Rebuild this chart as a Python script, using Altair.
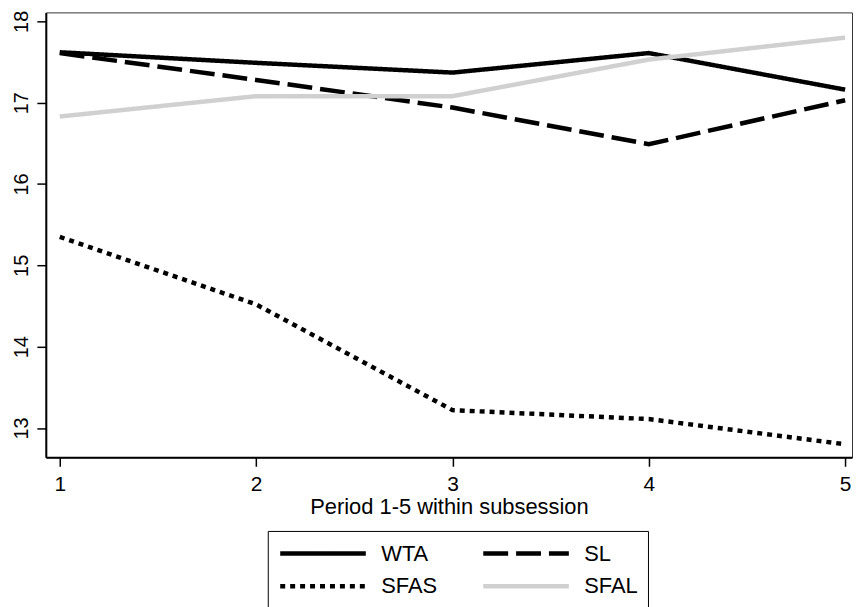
import altair as alt
import pandas as pd

periods = [1, 2, 3, 4, 5]
series_names = ["WTA", "SL", "SFAS", "SFAL"]
wta = [17.62, 17.49, 17.37, 17.61, 17.16]
sl = [17.61, 17.28, 16.94, 16.49, 17.03]
sfas = [15.35, 14.52, 13.22, 13.11, 12.80]
sfal = [16.83, 17.08, 17.08, 17.53, 17.80]

rows = []
for name, vals in zip(series_names, [wta, sl, sfas, sfal]):
    for p, v in zip(periods, vals):
        rows.append({"period": p, "value": v, "series": name})
df = pd.DataFrame(rows)

font = "Liberation Sans"

chart = alt.Chart(df).mark_line(strokeWidth=4.5, strokeCap="butt").encode(
    x=alt.X("period:Q",
            scale=alt.Scale(domain=[0.929, 5.035], nice=False, zero=False),
            axis=alt.Axis(values=periods, format="d", title="Period 1-5 within subsession",
                          grid=False, tickSize=9, labelPadding=7, labelFontSize=21,
                          titlePadding=2, titleFontSize=22)),
    y=alt.Y("value:Q",
            scale=alt.Scale(domain=[12.64, 18.11], nice=False, zero=False),
            axis=alt.Axis(values=[13, 14, 15, 16, 17, 18], format="d", title=None,
                          grid=False, tickSize=9, labelAngle=270, labelAlign="center",
                          labelBaseline="bottom", labelPadding=5, labelFontSize=20)),
    color=alt.Color("series:N",
                    scale=alt.Scale(domain=series_names,
                                    range=["#000000", "#000000", "#000000", "#d0d0d0"]),
                    legend=alt.Legend(title=None, orient="none", legendX=223, legendY=521,
                                      columns=2, direction="horizontal",
                                      symbolType="M-1,0H7.6", symbolSize=400,
                                      symbolStrokeWidth=4.5, labelFontSize=22,
                                      labelFont=font, labelColor="#000000",
                                      labelOffset=79, columnPadding=36,
                                      rowPadding=9, padding=10,
                                      strokeColor="#000000", fillColor="white")),
    strokeDash=alt.StrokeDash("series:N",
                              scale=alt.Scale(domain=series_names,
                                              range=[[1, 0], [25, 8], [5, 5], [1, 0]]),
                              legend=None),
    order=alt.Order("period:Q"),
).properties(width=810, height=447, padding={"left": 3, "top": 0, "right": 0, "bottom": 0},
             background="white"
).configure_view(stroke="#333333", strokeWidth=1
).configure_axis(domainColor="#000000", domainWidth=2, tickColor="#000000", tickWidth=1.5,
                 labelColor="#000000", titleColor="#000000", labelFont=font, titleFont=font,
                 titleFontWeight="normal")

chart.save("out.html", embed_options={"renderer": "svg", "actions": False})
